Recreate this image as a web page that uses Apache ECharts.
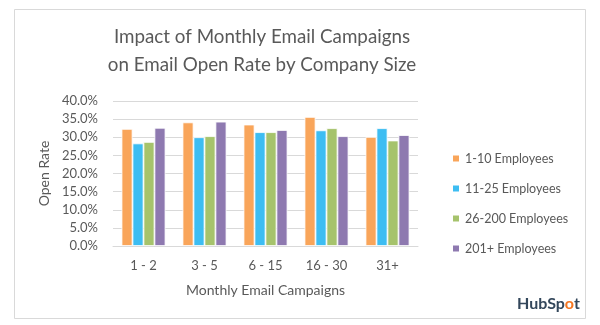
<!DOCTYPE html>
<html><head><meta charset="utf-8">
<script src="https://cdn.jsdelivr.net/npm/echarts@6/dist/echarts.min.js"></script>
<style>html,body{margin:0;padding:0;background:#fff}#c{width:600px;height:325px}</style>
</head><body><div id="c"></div>
<script>
const categories = ['1 - 2', '3 - 5', '6 - 15', '16 - 30', '31+'];
const seriesNames = ['1-10 Employees', '11-25 Employees', '26-200 Employees', '201+ Employees'];
const s1_10 = [32.3, 34.1, 33.5, 35.6, 30.1];
const s11_25 = [28.3, 30.0, 31.4, 31.9, 32.5];
const s26_200 = [28.7, 30.3, 31.4, 32.5, 29.1];
const s201 = [32.6, 34.3, 32.0, 30.3, 30.6];
const colors = ['#F9A55A', '#3DBDF2', '#A6C36C', '#8E79B0'];
const values = [s1_10, s11_25, s26_200, s201];
const font = 'Lato';
const chart = echarts.init(document.getElementById('c'));
chart.setOption({
  animation: false,
  backgroundColor: '#fff',
  graphic: [
    {type:'rect', shape:{x:14.5, y:9.5, width:571, height:309}, style:{fill:'#fff', stroke:'#d9d9d9', lineWidth:1}, z:-10},
    {type:'text', x:262, y:37, style:{text:'Impact of Monthly Email Campaigns', fill:'#595959', font:'18.8px Lato', textAlign:'center', textVerticalAlign:'middle'}},
    {type:'text', x:262, y:65, style:{text:'on Email Open Rate by Company Size', fill:'#595959', font:'18.8px Lato', textAlign:'center', textVerticalAlign:'middle'}},
    {type:'text', x:580, y:304, style:{text:'{a|HubSp}{b|o}{a|t}', textAlign:'right', textVerticalAlign:'middle',
      rich:{a:{fill:'#33475b', font:'bold 16px Lato'}, b:{fill:'#f57722', font:'bold 16px Lato'}}}}
  ],
  grid: {left:113, right:182, top:101, bottom:79},
  legend: {
    orient:'vertical', left:446, top:147, itemWidth:8, itemHeight:8, itemGap:17,
    icon:'rect', data: seriesNames,
    textStyle:{color:'#595959', fontSize:12.5, fontFamily:font}
  },
  xAxis: {
    type:'category', data:categories,
    axisLine:{lineStyle:{color:'#d9d9d9'}}, axisTick:{show:false},
    axisLabel:{color:'#595959', fontSize:13, fontFamily:font, margin:13},
    name:'Monthly Email Campaigns', nameLocation:'middle', nameGap:37,
    nameTextStyle:{color:'#595959', fontSize:14, fontFamily:font}
  },
  yAxis: {
    type:'value', min:0, max:40, interval:5,
    axisLabel:{color:'#595959', fontSize:13, fontFamily:font, margin:15, formatter:v=>v.toFixed(1)+'%'},
    splitLine:{lineStyle:{color:'#d9d9d9'}},
    axisLine:{show:false}, axisTick:{show:false},
    name:'Open Rate', nameLocation:'middle', nameGap:61, nameRotate:90,
    nameTextStyle:{color:'#595959', fontSize:14, fontFamily:font}
  },
  series: seriesNames.map((n,i)=>({
    name:n, type:'bar', data:values[i], barGap:'0%', barCategoryGap:'28%',
    itemStyle:{color:colors[i], borderColor:'#fff', borderWidth:0.8}
  }))
});
</script></body></html>
